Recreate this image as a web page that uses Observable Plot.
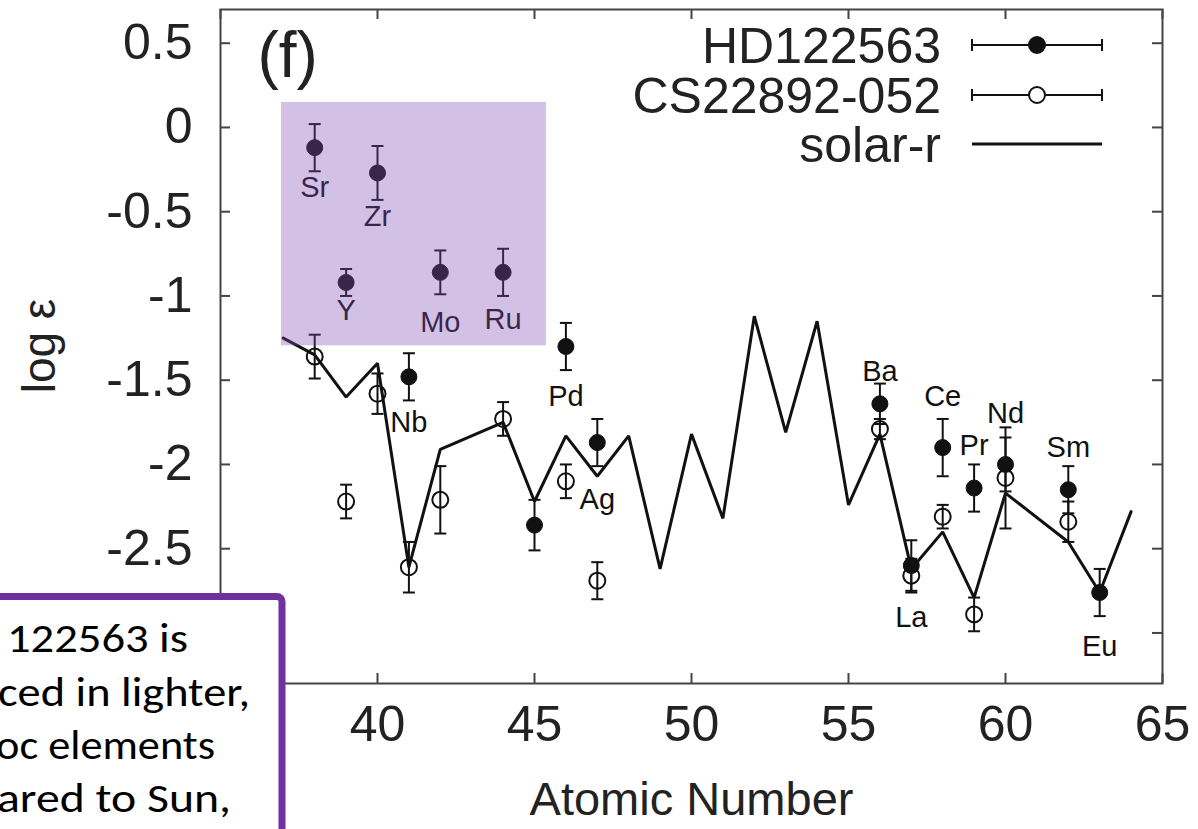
<!DOCTYPE html>
<html><head><meta charset="utf-8">
<script src="https://cdn.jsdelivr.net/npm/d3@7"></script>
<script src="https://cdn.jsdelivr.net/npm/@observablehq/plot@0.6"></script>
<style>
html,body{margin:0;padding:0;background:#fff;overflow:hidden;}
#wrap{position:relative;width:1198px;height:829px;overflow:hidden;}
#wrap svg{position:absolute;left:0;top:0;}
</style></head><body><div id="wrap"></div>
<script>
// ---- data ----
const hdZ     = [38, 39, 40, 41, 42, 44, 45, 46, 47, 56, 57, 58, 59, 60, 62, 63];
const hdName  = ["Sr","Y","Zr","Nb","Mo","Ru","","Pd","Ag","Ba","La","Ce","Pr","Nd","Sm","Eu"];
const hdVal   = [-0.12,-0.92,-0.27,-1.48,-0.86,-0.86,-2.36,-1.30,-1.87,-1.64,-2.60,-1.90,-2.14,-2.00,-2.15,-2.76];
const hdErr   = [0.14, 0.08, 0.16, 0.14, 0.13, 0.14, 0.15, 0.14, 0.14, 0.12, 0.15, 0.17, 0.14, 0.16, 0.14, 0.14];
const hdNameY = [-0.36,-1.09,-0.53,-1.75,-1.16,-1.14,null,-1.60,-2.21,-1.45,-2.91,-1.60,-1.89,-1.70,-1.90,-3.08];

const csZ   = [38, 39, 40, 41, 42, 44, 46, 47, 56, 57, 58, 59, 60, 62];
const csVal = [-1.36,-2.22,-1.58,-2.61,-2.21,-1.73,-2.10,-2.69,-1.79,-2.66,-2.31,-2.89,-2.08,-2.34];
const csErr = [0.13, 0.10, 0.12, 0.15, 0.20, 0.10, 0.10, 0.11, 0.06, 0.10, 0.07, 0.10, 0.30, 0.12];

const solarZ   = [37, 38, 39, 40, 41, 42, 44, 45, 46, 47, 48, 49, 50, 51, 52, 53, 54, 55, 56, 57, 58, 59, 60, 62, 63, 64];
const solarVal = [-1.25,-1.35,-1.60,-1.40,-2.61,-1.91,-1.75,-2.22,-1.83,-2.07,-1.83,-2.62,-1.82,-2.32,-1.12,-1.81,-1.15,-2.24,-1.82,-2.62,-2.40,-2.79,-2.17,-2.46,-2.76,-2.28];

const xTicks = [35, 40, 45, 50, 55, 60, 65];
const yTicks = [0.5, 0, -0.5, -1, -1.5, -2, -2.5, -3];
const xTickLabels = [40, 45, 50, 55, 60, 65];          // 35 is hidden behind the text box
const yTickLabels = [0.5, 0, -0.5, -1, -1.5, -2, -2.5]; // -3 is hidden behind the text box
const xDomain = [35, 65];
const yDomain = [-3.3, 0.7];
// highlighted region (data units)
const hiX = [36.94, 45.38];
const hiY = [-1.296, 0.148];

const legendNames = ["HD122563", "CS22892-052", "solar-r"];
const boxLines = ["122563 is", "ced in lighter,", "oc elements", "ared to Sun,"];

// ---- build tables ----
const hd = hdZ.map((z, i) => ({z, v: hdVal[i], e: hdErr[i], name: hdName[i], ny: hdNameY[i]}));
const cs = csZ.map((z, i) => ({z, v: csVal[i], e: csErr[i]}));
const solar = solarZ.map((z, i) => ({z, v: solarVal[i]}));

const W = 1198, H = 829, mL = 220, mR = 36, mT = 9, mB = 146;
const kx = (xDomain[1] - xDomain[0]) / (W - mL - mR); // data units per px
const ky = (yDomain[1] - yDomain[0]) / (H - mT - mB);
const tick = 10, cap = 6;
const INK = "#111", FR = "#444";
const FONT = "'Liberation Sans', Arial, Helvetica, sans-serif";

function errMarks(data) {
  return [
    Plot.ruleX(data, {x: "z", y1: d => d.v - d.e, y2: d => d.v + d.e, stroke: INK, strokeWidth: 2}),
    Plot.link(data, {x1: d => d.z - cap * kx, x2: d => d.z + cap * kx, y1: d => d.v + d.e, y2: d => d.v + d.e, stroke: INK, strokeWidth: 2}),
    Plot.link(data, {x1: d => d.z - cap * kx, x2: d => d.z + cap * kx, y1: d => d.v - d.e, y2: d => d.v - d.e, stroke: INK, strokeWidth: 2})
  ];
}

const chart = Plot.plot({
  width: W, height: H,
  marginLeft: mL, marginRight: mR, marginTop: mT, marginBottom: mB,
  style: {fontFamily: FONT, background: "white", overflow: "visible"},
  x: {domain: xDomain},
  y: {domain: yDomain},
  marks: [
    Plot.line(solar, {x: "z", y: "v", stroke: INK, strokeWidth: 3, strokeLinejoin: "miter"}),
    ...errMarks(cs),
    Plot.dot(cs, {x: "z", y: "v", r: 8, fill: "none", stroke: INK, strokeWidth: 2}),
    ...errMarks(hd),
    Plot.dot(hd, {x: "z", y: "v", r: 8, fill: INK, stroke: INK, strokeWidth: 1}),
    Plot.text(hd.filter(d => d.name), {x: "z", y: "ny", text: "name", fontSize: 29, fill: INK, fontFamily: FONT}),
    // frame & inward ticks on all sides
    Plot.frame({stroke: FR, strokeWidth: 2}),
    Plot.ruleX(xTicks, {x: d => d, y1: yDomain[0], y2: yDomain[0] + tick * ky, stroke: FR, strokeWidth: 2}),
    Plot.ruleX(xTicks, {x: d => d, y1: yDomain[1], y2: yDomain[1] - tick * ky, stroke: FR, strokeWidth: 2}),
    Plot.ruleY(yTicks, {y: d => d, x1: xDomain[0], x2: xDomain[0] + tick * kx, stroke: FR, strokeWidth: 2}),
    Plot.ruleY(yTicks, {y: d => d, x1: xDomain[1], x2: xDomain[1] - tick * kx, stroke: FR, strokeWidth: 2}),
    Plot.axisX({ticks: xTickLabels, tickSize: 0, tickPadding: 22, fontSize: 50, tickFormat: d => String(d), label: null, fill: "#222"}),
    Plot.axisY({ticks: yTickLabels, tickSize: 0, tickPadding: 28, fontSize: 50, tickFormat: d => String(d), label: null, fill: "#222"}),
    Plot.text(["(f)"], {frameAnchor: "top-left", text: d => d, dx: 37, dy: 22, fontSize: 64, textAnchor: "start", lineAnchor: "top", fill: "#222"}),
    Plot.text(["Atomic Number"], {frameAnchor: "bottom", text: d => d, dy: 116, fontSize: 47, lineAnchor: "middle", fill: "#222"}),
    // translucent purple highlight
    Plot.rect([0], {x1: () => hiX[0], x2: () => hiX[1], y1: () => hiY[0], y2: () => hiY[1], fill: "rgb(128,77,180)", fillOpacity: 0.35})
  ]
});
document.getElementById("wrap").appendChild(chart);

const svg = d3.select(chart);
// y-axis title
svg.append("text").attr("transform", `translate(39,${(mT + H - mB) / 2}) rotate(-90)`)
  .attr("text-anchor", "middle").attr("dy", "0.35em").attr("font-family", FONT).attr("font-size", 46)
  .attr("fill", "#222").text("log ε");

// ---- legend (top right) ----
const lg = svg.append("g").attr("font-family", FONT).attr("font-size", 50).attr("fill", "#222");
const rowsY = [45, 95, 144];
legendNames.forEach((name, i) => {
  const y = rowsY[i];
  lg.append("text").attr("x", 941).attr("y", y).attr("dy", "0.36em").attr("text-anchor", "end").text(name);
  lg.append("line").attr("x1", 972).attr("x2", 1102).attr("y1", y).attr("y2", y)
    .attr("stroke", INK).attr("stroke-width", i === 2 ? 3 : 2);
  if (i < 2) {
    [972, 1102].forEach(x => lg.append("line").attr("x1", x).attr("x2", x).attr("y1", y - 6).attr("y2", y + 6).attr("stroke", INK).attr("stroke-width", 2));
    lg.append("circle").attr("cx", 1037).attr("cy", y).attr("r", 8)
      .attr("fill", i === 0 ? INK : "white").attr("stroke", INK).attr("stroke-width", 2);
  }
});

// ---- text box overlay (bottom left) ----
const ov = d3.select("#wrap").append("svg").attr("width", W).attr("height", H).style("pointer-events", "none");
ov.append("rect").attr("x", -20).attr("y", 596.5).attr("width", 302).attr("height", 300).attr("rx", 5)
  .attr("fill", "white").attr("stroke", "#7030A0").attr("stroke-width", 7);
const leftX = [7, -2, -4, -3], rightX = [188, 250, 215, 231], baseY = [652, 706, 759, 812];
boxLines.forEach((t, i) => {
  ov.append("text").attr("x", leftX[i]).attr("y", baseY[i])
    .attr("textLength", rightX[i] - leftX[i]).attr("lengthAdjust", "spacingAndGlyphs")
    .attr("font-family", "Carlito, Calibri, Lato, sans-serif").attr("font-size", 42).attr("fill", "#000").text(t);
});
</script></body></html>
